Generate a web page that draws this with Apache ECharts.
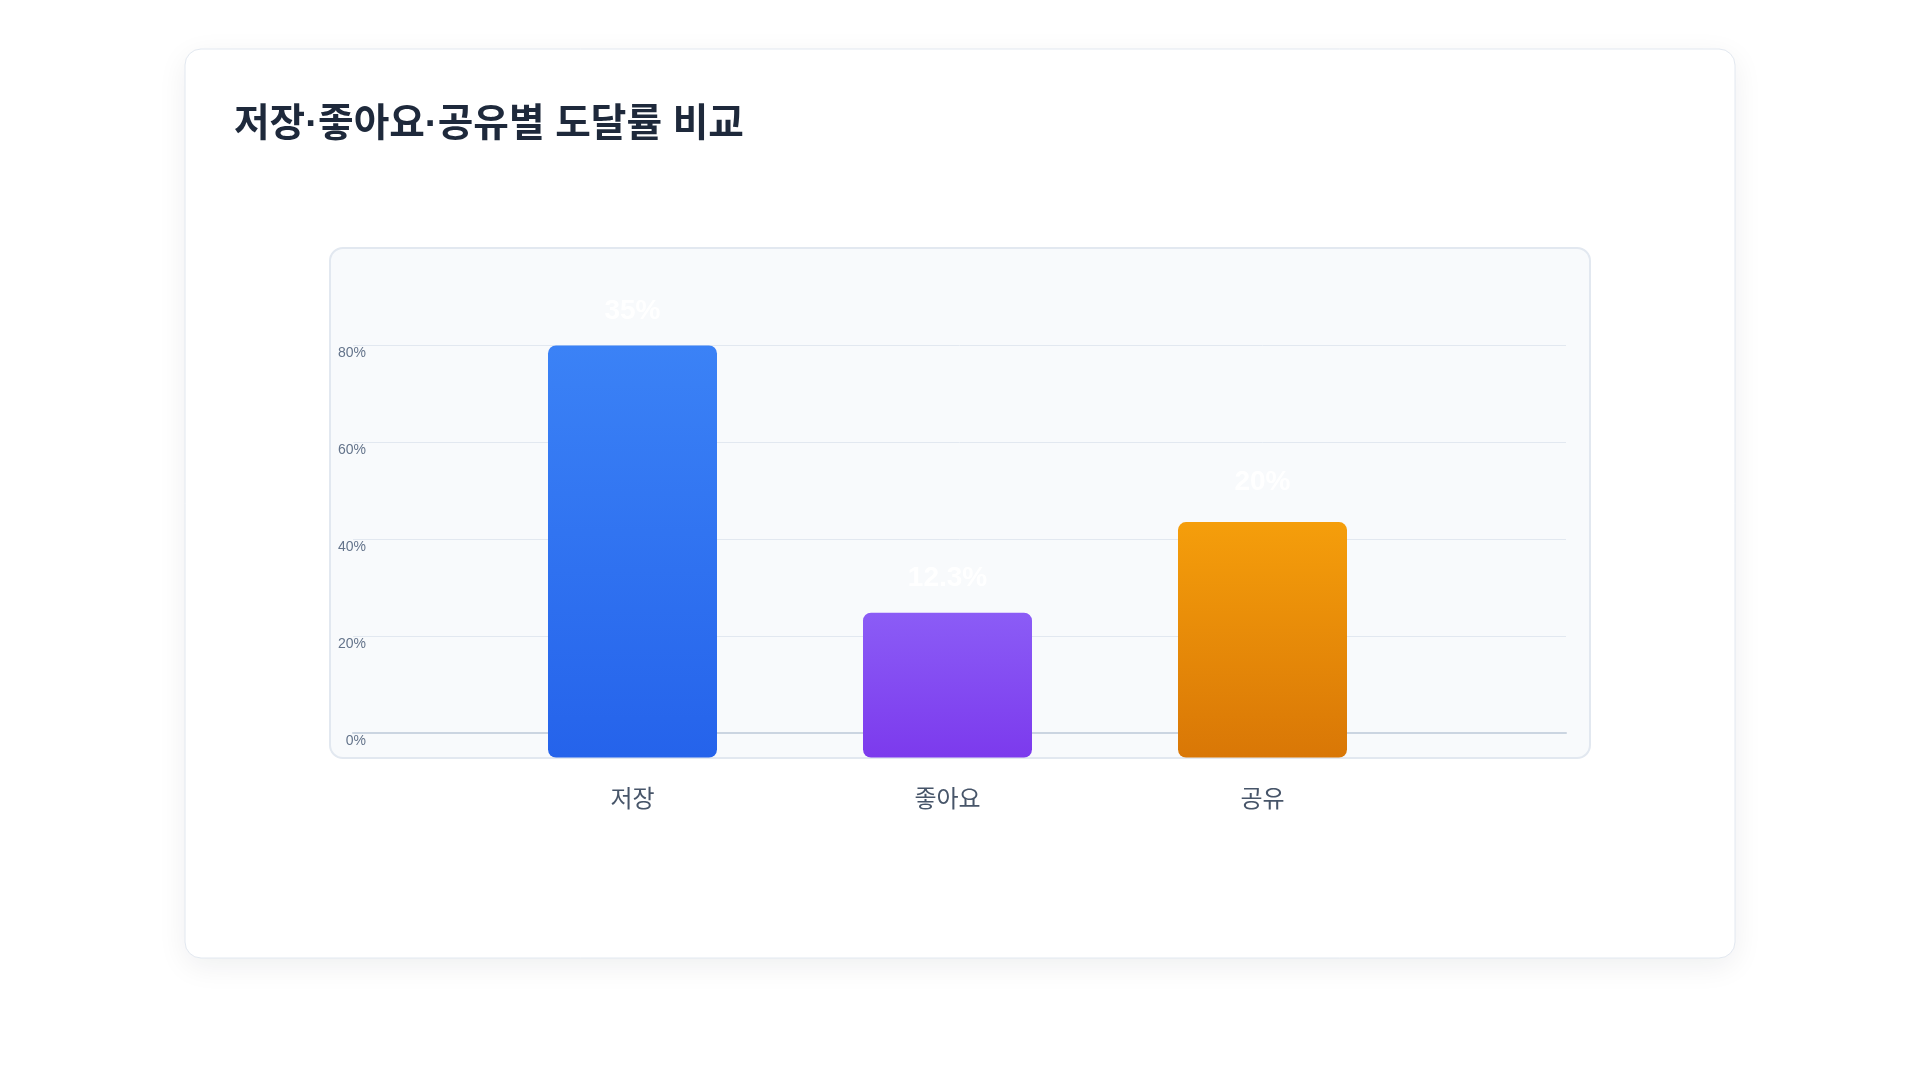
<!DOCTYPE html>
<html>
<head>
<meta charset="utf-8">
<script src="https://cdn.jsdelivr.net/npm/echarts@6/dist/echarts.min.js"></script>
<style>
html,body{margin:0;padding:0;background:#ffffff;}
#chart{width:1920px;height:1080px;}
</style>
</head>
<body>
<div id="chart"></div>
<script>
var titleText = '저장·좋아요·공유별 도달률 비교';
var categories = ['저장', '좋아요', '공유'];
var reachValues = [35, 12.3, 20];
var axisMin = 0, axisMax = 80, axisStep = 20;

var barColors = [
  ['#3b82f6', '#2563eb'],
  ['#8b5cf6', '#7c3aed'],
  ['#f59e0b', '#d97706']
];

var chart = echarts.init(document.getElementById('chart'), null, {renderer: 'canvas'});

var barData = reachValues.map(function (v, i) {
  var item = {
    value: v,
    itemStyle: {
      color: new echarts.graphic.LinearGradient(0, 0, 0, 1, [
        {offset: 0, color: barColors[i][0]},
        {offset: 1, color: barColors[i][1]}
      ]),
      borderRadius: 8
    }
  };
  if (i === 2) { item.label = {distance: 26}; }
  return item;
});

var option = {
  backgroundColor: '#ffffff',
  animation: false,
  graphic: {
    elements: [
      {
        type: 'rect', z: -100,
        shape: {x: 185, y: 49, width: 1550, height: 909, r: 16},
        style: {fill: '#ffffff', stroke: '#e2e8f0', lineWidth: 1,
          shadowBlur: 30, shadowColor: 'rgba(15,23,42,0.07)', shadowOffsetY: 8}
      },
      {
        type: 'rect', z: -90,
        shape: {x: 330, y: 248, width: 1260, height: 510, r: 13},
        style: {fill: '#f8fafc', stroke: '#e2e8f0', lineWidth: 2}
      }
    ]
  },
  title: {
    text: titleText,
    left: 229,
    top: 101,
    textStyle: {
      fontFamily: "'Liberation Sans', 'Noto Sans CJK KR', sans-serif",
      fontSize: 38.7,
      fontWeight: 'bold',
      color: '#1e293b'
    }
  },
  grid: [
    {left: 353, right: 354, top: 345, bottom: 347},
    {left: 475, right: 500, top: 345.5, bottom: 322.5}
  ],
  xAxis: [
    {
      gridIndex: 0, type: 'category', data: categories,
      axisLabel: {show: false}, axisTick: {show: false},
      axisLine: {show: true, lineStyle: {color: '#cbd5e1', width: 2}},
      splitLine: {show: false}
    },
    {
      gridIndex: 1, type: 'category', data: categories,
      axisTick: {show: false}, axisLine: {show: false},
      axisLabel: {
        margin: 31,
        fontFamily: "'Liberation Sans', 'Noto Sans CJK KR', sans-serif",
        fontSize: 24,
        color: '#475569'
      }
    }
  ],
  yAxis: [
    {
      gridIndex: 0, type: 'value', min: axisMin, max: axisMax, interval: axisStep,
      axisLine: {show: false}, axisTick: {show: false},
      splitLine: {lineStyle: {color: '#e2e8f0', width: 1}},
      axisLabel: {
        formatter: '{value}%',
        margin: -13,
        align: 'right',
        verticalAlign: 'top',
        padding: [1, 0, 0, 0],
        fontFamily: 'Liberation Sans',
        fontSize: 14,
        color: '#64748b'
      }
    },
    {
      gridIndex: 1, type: 'value', min: 0, max: 35, show: false,
      splitLine: {show: false}
    }
  ],
  series: [
    {
      type: 'bar',
      xAxisIndex: 1,
      yAxisIndex: 1,
      barWidth: 169,
      data: barData,
      label: {
        show: true,
        position: 'top',
        distance: 20,
        formatter: '{c}%',
        fontFamily: 'Liberation Sans',
        fontSize: 28,
        fontWeight: 'bold',
        color: '#ffffff'
      }
    }
  ]
};

chart.setOption(option);
</script>
</body>
</html>
